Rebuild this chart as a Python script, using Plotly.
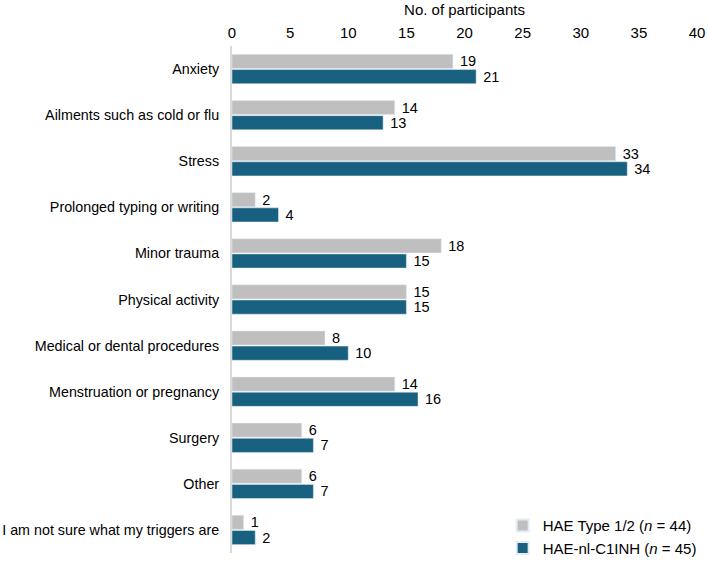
import plotly.graph_objects as go

categories = ["Anxiety", "Ailments such as cold or flu", "Stress", "Prolonged typing or writing",
              "Minor trauma", "Physical activity", "Medical or dental procedures",
              "Menstruation or pregnancy", "Surgery", "Other", "I am not sure what my triggers are"]
hae12 = [19, 14, 33, 2, 18, 15, 8, 14, 6, 6, 1]
haenl = [21, 13, 34, 4, 15, 15, 10, 16, 7, 7, 2]
x_ticks = [0, 5, 10, 15, 20, 25, 30, 35, 40]

font = "Liberation Sans, Arial, sans-serif"
fig = go.Figure()
fig.add_trace(go.Bar(y=categories, x=hae12, orientation="h", name="HAE Type 1/2 (<i>n</i> = 44)",
                     marker_color="#bfbfbf", text=hae12, texttemplate="\u00a0%{text}",
                     textposition="outside", constraintext="none",
                     textfont=dict(size=14.5, color="#000"), cliponaxis=False))
fig.add_trace(go.Bar(y=categories, x=haenl, orientation="h", name="HAE-nl-C1INH (<i>n</i> = 45)",
                     marker_color="#17607f", text=haenl, texttemplate="\u00a0%{text}",
                     textposition="outside", constraintext="none",
                     textfont=dict(size=14.5, color="#000"), cliponaxis=False))
fig.update_layout(
    width=708, height=561, barmode="group", bargap=0.34, bargroupgap=0.07,
    plot_bgcolor="white", paper_bgcolor="white",
    margin=dict(l=232, r=11, t=46, b=8, autoexpand=False),
    font=dict(family=font, size=14.3, color="#000"),
    xaxis=dict(side="top", range=[0, 40], tickvals=x_ticks, showgrid=False, zeroline=False,
               showline=False, ticks="", tickfont=dict(size=15), ticklabelstandoff=4,
               automargin=False,
               title=dict(text="No. of participants", font=dict(size=15), standoff=4)),
    yaxis=dict(autorange="reversed", showline=True, linecolor="#d9d9d9", linewidth=2,
               ticks="", ticklen=0, showgrid=False, tickfont=dict(size=14.3),
               ticklabelstandoff=8, automargin=False),
    legend=dict(x=1.01, y=-0.022, xanchor="right", yanchor="bottom", font=dict(size=15),
                bgcolor="rgba(0,0,0,0)", itemsizing="constant", tracegroupgap=4),
)
fig.write_html("out.html")
